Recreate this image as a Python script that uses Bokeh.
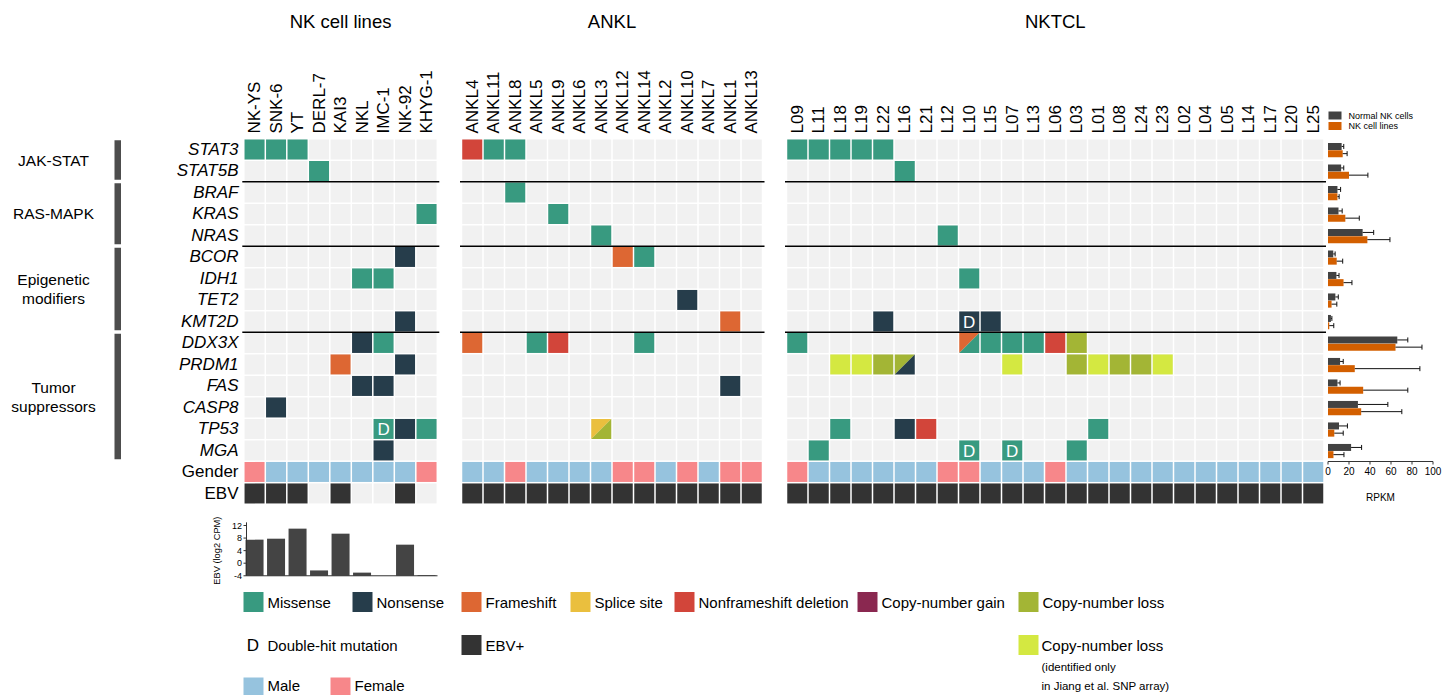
import math
from bokeh.plotting import figure
from bokeh.models import Range1d
from bokeh.embed import file_html
from bokeh.resources import INLINE
from bokeh.core.properties import value

# ======================= DATA =======================
genes = ["STAT3", "STAT5B", "BRAF", "KRAS", "NRAS", "BCOR", "IDH1", "TET2",
         "KMT2D", "DDX3X", "PRDM1", "FAS", "CASP8", "TP53", "MGA"]
pathway_names = [["JAK-STAT"], ["RAS-MAPK"], ["Epigenetic", "modifiers"], ["Tumor", "suppressors"]]
pathway_sizes = [2, 3, 4, 6]

cohort_titles = ["NK cell lines", "ANKL", "NKTCL"]

nk_samples = ["NK-YS", "SNK-6", "YT", "DERL-7", "KAI3", "NKL", "IMC-1", "NK-92", "KHYG-1"]
ankl_samples = ["ANKL4", "ANKL11", "ANKL8", "ANKL5", "ANKL9", "ANKL6", "ANKL3", "ANKL12",
                "ANKL14", "ANKL2", "ANKL10", "ANKL7", "ANKL1", "ANKL13"]
nktcl_samples = ["L09", "L11", "L18", "L19", "L22", "L16", "L21", "L12", "L10", "L15", "L07",
                 "L13", "L06", "L03", "L01", "L08", "L24", "L23", "L02", "L04", "L05", "L14",
                 "L17", "L20", "L25"]

# (sample, gene, alteration); "A/B" = cell shared by two alterations
nk_mutations = [
    ("NK-YS", "STAT3", "Missense"), ("SNK-6", "STAT3", "Missense"), ("YT", "STAT3", "Missense"),
    ("DERL-7", "STAT5B", "Missense"), ("KHYG-1", "KRAS", "Missense"),
    ("NK-92", "BCOR", "Nonsense"), ("NKL", "IDH1", "Missense"), ("IMC-1", "IDH1", "Missense"),
    ("NK-92", "KMT2D", "Nonsense"), ("NKL", "DDX3X", "Nonsense"), ("IMC-1", "DDX3X", "Missense"),
    ("KAI3", "PRDM1", "Frameshift"), ("NK-92", "PRDM1", "Nonsense"),
    ("NKL", "FAS", "Nonsense"), ("IMC-1", "FAS", "Nonsense"), ("SNK-6", "CASP8", "Nonsense"),
    ("IMC-1", "TP53", "Missense"), ("NK-92", "TP53", "Nonsense"), ("KHYG-1", "TP53", "Missense"),
    ("IMC-1", "MGA", "Nonsense"),
]
ankl_mutations = [
    ("ANKL4", "STAT3", "Nonframeshift deletion"), ("ANKL11", "STAT3", "Missense"),
    ("ANKL8", "STAT3", "Missense"), ("ANKL8", "BRAF", "Missense"), ("ANKL9", "KRAS", "Missense"),
    ("ANKL3", "NRAS", "Missense"), ("ANKL12", "BCOR", "Frameshift"), ("ANKL14", "BCOR", "Missense"),
    ("ANKL10", "TET2", "Nonsense"), ("ANKL1", "KMT2D", "Frameshift"),
    ("ANKL4", "DDX3X", "Frameshift"), ("ANKL5", "DDX3X", "Missense"),
    ("ANKL9", "DDX3X", "Nonframeshift deletion"), ("ANKL14", "DDX3X", "Missense"),
    ("ANKL1", "FAS", "Nonsense"), ("ANKL3", "TP53", "Splice site/Copy-number loss"),
]
nktcl_mutations = [
    ("L09", "STAT3", "Missense"), ("L11", "STAT3", "Missense"), ("L18", "STAT3", "Missense"),
    ("L19", "STAT3", "Missense"), ("L22", "STAT3", "Missense"), ("L16", "STAT5B", "Missense"),
    ("L12", "NRAS", "Missense"), ("L10", "IDH1", "Missense"),
    ("L22", "KMT2D", "Nonsense"), ("L10", "KMT2D", "Nonsense"), ("L15", "KMT2D", "Nonsense"),
    ("L09", "DDX3X", "Missense"), ("L10", "DDX3X", "Frameshift/Missense"),
    ("L15", "DDX3X", "Missense"), ("L07", "DDX3X", "Missense"), ("L13", "DDX3X", "Missense"),
    ("L06", "DDX3X", "Nonframeshift deletion"), ("L03", "DDX3X", "Copy-number loss"),
    ("L18", "PRDM1", "Copy-number loss (SNP)"), ("L19", "PRDM1", "Copy-number loss (SNP)"),
    ("L22", "PRDM1", "Copy-number loss"), ("L16", "PRDM1", "Copy-number loss/Nonsense"),
    ("L07", "PRDM1", "Copy-number loss (SNP)"), ("L03", "PRDM1", "Copy-number loss"),
    ("L01", "PRDM1", "Copy-number loss (SNP)"), ("L08", "PRDM1", "Copy-number loss"),
    ("L24", "PRDM1", "Copy-number loss"), ("L23", "PRDM1", "Copy-number loss (SNP)"),
    ("L18", "TP53", "Missense"), ("L16", "TP53", "Nonsense"),
    ("L21", "TP53", "Nonframeshift deletion"), ("L01", "TP53", "Missense"),
    ("L11", "MGA", "Missense"), ("L10", "MGA", "Missense"), ("L07", "MGA", "Missense"),
    ("L03", "MGA", "Missense"),
]
nk_double = [("IMC-1", "TP53")]
ankl_double = []
nktcl_double = [("L10", "KMT2D"), ("L10", "MGA"), ("L07", "MGA")]

nk_gender = ["F", "M", "M", "M", "M", "M", "M", "M", "F"]
ankl_gender = ["M", "M", "F", "M", "M", "M", "M", "F", "F", "M", "F", "M", "F", "F"]
nktcl_gender = ["F", "M", "M", "M", "M", "M", "M", "F", "F", "M", "M", "M", "F", "M",
                "M", "M", "M", "M", "M", "M", "M", "M", "M", "M", "M"]

nk_ebv = [1, 1, 1, 0, 1, 0, 0, 1, 0]
ankl_ebv = [1, 1, 1, 1, 1, 1, 1, 1, 1, 1, 1, 1, 1, 1]
nktcl_ebv = [1, 1, 1, 1, 1, 1, 1, 1, 1, 1, 1, 1, 1, 1, 1, 1, 1, 1, 1, 1, 1, 1, 1, 1, 1]

# EBV load in NK cell lines (log2 CPM)
ebv_log2cpm = [7.5, 7.8, 11.0, -2.3, 9.4, -3.0, -4.0, 5.9, -3.8]
ebv_ticks = [-4, 0, 4, 8, 12]

# Expression (RPKM): mean and SD
rpkm_normal = [13, 12.5, 9, 10, 33, 5, 8, 7, 2.8, 66, 11.5, 9, 28.5, 10.5, 22]
rpkm_normal_sd = [2, 2.5, 3, 3.5, 10.5, 1.8, 2.5, 2.8, 0.9, 10, 3, 2.5, 28.5, 8, 10]
rpkm_lines = [14, 20, 9, 16.5, 37.5, 8.3, 14.8, 3.4, 1.2, 64.3, 25.5, 33.5, 31.6, 6, 5.2]
rpkm_lines_sd = [4.2, 18, 1.6, 13.3, 21.5, 5.7, 8, 5, 4.3, 25.2, 62, 42.5, 38.7, 8.5, 10]
rpkm_ticks = [0, 20, 40, 60, 80, 100]
rpkm_series = ["Normal NK cells", "NK cell lines"]

legend_row1 = ["Missense", "Nonsense", "Frameshift", "Splice site", "Nonframeshift deletion",
               "Copy-number gain", "Copy-number loss"]

# ======================= STYLE =======================
FONT = "Liberation Sans"
COLORS = {
    "Missense": "#389A80", "Nonsense": "#263D4B", "Frameshift": "#DD6733",
    "Splice site": "#EABF3E", "Nonframeshift deletion": "#D2453A",
    "Copy-number gain": "#8A2850", "Copy-number loss": "#A3B535",
    "Copy-number loss (SNP)": "#D4E841",
}
BG = "#F1F1F1"
GENDER_COL = {"M": "#96C3DE", "F": "#F7878A"}
EBV_POS = "#333333"
NORMAL_COL = "#424242"
LINES_COL = "#D35F00"

W, H = 1443, 695
P = 21.5          # cell pitch (px)
CELL = 20         # visible cell size
ROW_TOP = 138.2   # top of first gene row
panel_left = [243.3, 461.0, 786.0]
legend_x1 = [243, 352, 461, 570, 674, 857, 1018]


def row_y(i):
    return ROW_TOP + P * (i + 0.5)


def linear_range(v1, s1, v2, s2, lo, hi):
    b = (s2 - s1) / (v2 - v1)
    a = s1 - b * v1
    return Range1d((lo - a) / b, (hi - a) / b)


p = figure(width=W, height=H, x_range=Range1d(0, W), y_range=Range1d(H, 0),
           x_axis_type=None, y_axis_type=None, output_backend="svg",
           toolbar_location=None, min_border=0, outline_line_color=None)
p.background_fill_color = "white"
p.border_fill_color = "white"
p.grid.visible = False
p.extra_x_ranges = {"rpkm": linear_range(0, 1327.5, 100, 1432.5, 0, W)}
p.extra_y_ranges = {"ebv": linear_range(0, 562.7, 12, 525.0, H, 0)}


def txt(x, y, t, size, align="left", baseline="middle", angle=0, style="normal",
        color="#000000", **kw):
    p.text(x=x, y=y, text=t, text_font=value(FONT), text_font_size=value(f"{size}px"),
           text_align=align, text_baseline=baseline, angle=angle,
           text_font_style=style, text_color=color, **kw)


# ---------------- heat-map panels ----------------
cohorts = [
    (nk_samples, nk_mutations, nk_double, nk_gender, nk_ebv),
    (ankl_samples, ankl_mutations, ankl_double, ankl_gender, ankl_ebv),
    (nktcl_samples, nktcl_mutations, nktcl_double, nktcl_gender, nktcl_ebv),
]
gi = {g: i for i, g in enumerate(genes)}
sep_rows = []
acc = 0
for n in pathway_sizes[:-1]:
    acc += n
    sep_rows.append(acc)

for k, (samples, muts, dbl, gender, ebv) in enumerate(cohorts):
    left = panel_left[k]
    cx = {s: left + P * (j + 0.5) for j, s in enumerate(samples)}
    right = left + P * len(samples)
    # background cells
    bx = [cx[s] for s in samples for _ in genes]
    by = [row_y(i) for _ in samples for i in range(len(genes))]
    p.rect(bx, by, CELL, CELL, fill_color=BG, line_color=None)
    # alterations
    sx, sy, sc = [], [], []
    txs, tys, tcs = [], [], []
    for s, g, t in muts:
        x, y = cx[s], row_y(gi[g])
        if "/" in t:
            a, b = t.split("/")
            l, r, tp, bt = x - CELL / 2, x + CELL / 2, y - CELL / 2, y + CELL / 2
            txs += [[l, r, l], [r, r, l]]
            tys += [[tp, tp, bt], [tp, bt, bt]]
            tcs += [COLORS[a], COLORS[b]]
        else:
            sx.append(x); sy.append(y); sc.append(COLORS[t])
    p.rect(sx, sy, CELL, CELL, fill_color=sc, line_color=None)
    if txs:
        p.patches(txs, tys, fill_color=tcs, line_color=None)
    if dbl:
        txt([cx[s] for s, g in dbl], [row_y(gi[g]) + 1 for s, g in dbl],
            ["D" for _ in dbl], 17, align="center", color="white")
    # gender & EBV rows
    p.rect([cx[s] for s in samples], [row_y(len(genes)) for _ in samples], CELL, CELL,
           fill_color=[GENDER_COL[v] for v in gender], line_color=None)
    p.rect([cx[s] for s in samples], [row_y(len(genes) + 1) for _ in samples], CELL, CELL,
           fill_color=[EBV_POS if v else BG for v in ebv], line_color=None)
    # separators
    ys = [ROW_TOP + P * r for r in sep_rows]
    p.segment(x0=[left - 1.5] * len(ys), x1=[right + 2] * len(ys), y0=ys, y1=ys,
              line_color="black", line_width=1.5)
    # column labels
    txt([cx[s] for s in samples], [133 for _ in samples], samples, 17,
        align="left", baseline="middle", angle=math.pi / 2)
    # title
    txt([(left + right) / 2], [21], [cohort_titles[k]], 18.5, align="center")

# row labels
txt([238] * len(genes), [row_y(i) for i in range(len(genes))], genes, 17,
    align="right", style="italic")
txt([238, 238], [row_y(len(genes)), row_y(len(genes) + 1)], ["Gender", "EBV"], 17,
    align="right")

# pathway bars & labels
start = 0
for names, n in zip(pathway_names, pathway_sizes):
    top = ROW_TOP + P * start + 1.5
    bot = ROW_TOP + P * (start + n) - 2
    p.quad(left=114, right=120.5, top=top, bottom=bot, fill_color="#4D4D4D", line_color=None)
    c = ROW_TOP + P * (start + n / 2)
    m = len(names)
    txt([53] * m, [c + 19 * (j - (m - 1) / 2) for j in range(m)], names, 15.5, align="center")
    start += n

# ---------------- RPKM bar chart ----------------
ry = [row_y(i) for i in range(len(genes))]
yn = [y - 3.0 for y in ry]
yl = [y + 4.2 for y in ry]
p.hbar(y=yn, left=0, right=rpkm_normal, height=7, fill_color=NORMAL_COL, line_color=None,
       x_range_name="rpkm")
p.hbar(y=yl, left=0, right=rpkm_lines, height=7, fill_color=LINES_COL, line_color=None,
       x_range_name="rpkm")
for yy, m, sd in ((yn, rpkm_normal, rpkm_normal_sd), (yl, rpkm_lines, rpkm_lines_sd)):
    hi = [a + b for a, b in zip(m, sd)]
    p.segment(x0=m, x1=hi, y0=yy, y1=yy, line_color="#111111", line_width=1,
              x_range_name="rpkm")
    p.segment(x0=hi, x1=hi, y0=[y - 2.5 for y in yy], y1=[y + 2.5 for y in yy],
              line_color="#111111", line_width=1, x_range_name="rpkm")
# axis
AX_Y = 461
p.segment(x0=[rpkm_ticks[0]], x1=[rpkm_ticks[-1]], y0=[AX_Y], y1=[AX_Y], line_color="#333333",
          line_width=1, x_range_name="rpkm")
p.segment(x0=rpkm_ticks, x1=rpkm_ticks, y0=[AX_Y] * len(rpkm_ticks),
          y1=[AX_Y + 3] * len(rpkm_ticks), line_color="#333333", line_width=1,
          x_range_name="rpkm")
txt(rpkm_ticks, [470.5] * len(rpkm_ticks), [str(t) for t in rpkm_ticks], 10,
    align="center", x_range_name="rpkm")
txt([50], [497], ["RPKM"], 10, align="center", x_range_name="rpkm")
# legend
p.quad(left=[1328, 1328], right=[1341, 1341], top=[111, 121.5], bottom=[119, 129.5],
       fill_color=[NORMAL_COL, LINES_COL], line_color=None)
txt([1348, 1348], [115, 125.5], rpkm_series, 9)

# ---------------- EBV load bar chart ----------------
nk_cx = [panel_left[0] + P * (j + 0.5) for j in range(len(nk_samples))]
p.vbar(x=nk_cx, bottom=ebv_ticks[0], top=ebv_log2cpm, width=18, fill_color="#444444",
       line_color=None, y_range_name="ebv")
p.segment(x0=[246], x1=[246], y0=[ebv_ticks[0]], y1=[13], line_color="#333333",
          line_width=1, y_range_name="ebv")
p.segment(x0=[246], x1=[437], y0=[ebv_ticks[0]], y1=[ebv_ticks[0]], line_color="#333333",
          line_width=1, y_range_name="ebv")
p.segment(x0=[243] * len(ebv_ticks), x1=[246] * len(ebv_ticks), y0=ebv_ticks, y1=ebv_ticks,
          line_color="#333333", line_width=1, y_range_name="ebv")
txt([241.5] * len(ebv_ticks), ebv_ticks, [str(t) for t in ebv_ticks], 9, align="right",
    y_range_name="ebv")
txt([216.5], [4], ["EBV (log2 CPM)"], 9.3, align="center", angle=math.pi / 2,
    y_range_name="ebv")

# ---------------- bottom legend ----------------
L1 = 601.5
L2 = 644.5
L3 = 685
p.rect([x + 10 for x in legend_x1], [L1] * len(legend_x1), 20, 20,
       fill_color=[COLORS[t] for t in legend_row1], line_color=None)
txt([x + 24 for x in legend_x1], [L1 + 0.5] * len(legend_x1), legend_row1, 15)

txt([252.5], [L2 + 0.5], ["D"], 17, align="center")
txt([267], [L2 + 0.5], ["Double-hit mutation"], 15)
p.rect([471, 1028], [L2, L2], 20, 20, fill_color=[EBV_POS, COLORS["Copy-number loss (SNP)"]],
       line_color=None)
txt([485, 1041], [L2 + 0.5, L2 + 0.5], ["EBV+", "Copy-number loss"], 15)
txt([1041, 1041], [666.5, 685.5], ["(identified only", "in Jiang et al. SNP array)"], 11.5)

p.rect([253, 340], [L3 + 2, L3 + 2], 20, 20, fill_color=[GENDER_COL["M"], GENDER_COL["F"]],
       line_color=None)
txt([267, 354], [L3, L3], ["Male", "Female"], 15)

open("out.html", "w").write(file_html(p, INLINE))
